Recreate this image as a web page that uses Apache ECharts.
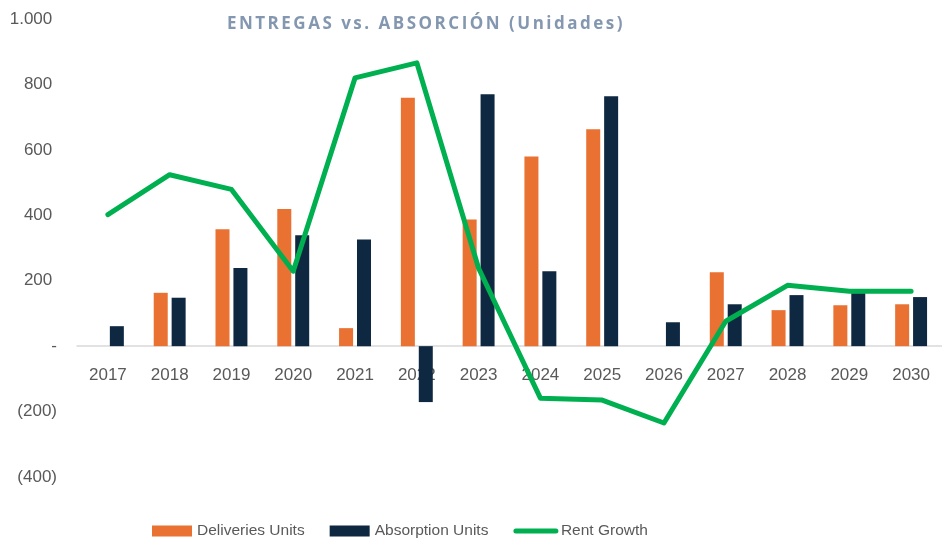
<!DOCTYPE html>
<html>
<head>
<meta charset="utf-8">
<script src="https://cdn.jsdelivr.net/npm/echarts@6/dist/echarts.min.js"></script>
<style>
  html, body { margin: 0; padding: 0; background: #fff; }
  #wrap { position: relative; width: 942px; height: 539px; }
  #chart { width: 942px; height: 539px; }
  #title {
    position: absolute; top: 11px; left: 216px; width: 420px; text-align: center;
    font-family: "Open Sans", sans-serif; font-weight: bold; font-size: 17px;
    letter-spacing: 2.5px; color: #8497B0; white-space: nowrap;
  }
</style>
</head>
<body>
<div id="wrap">
  <div id="chart"></div>
  <div id="title">ENTREGAS vs. ABSORCIÓN (Unidades)</div>
</div>
<script>
// datos
const years = ['2017', '2018', '2019', '2020', '2021', '2022', '2023', '2024', '2025', '2026', '2027', '2028', '2029', '2030'];
const deliveries = [0, 163, 357, 419, 55, 759, 387, 580, 663, 0, 226, 110, 125, 128];
const absorption = [61, 148, 239, 339, 326, -171, 770, 229, 764, 73, 128, 156, 162, 150];
const rentGrowth = [402, 524, 479, 229, 820, 866, 238, -159, -165, -235, 76, 186, 168, 168];

const fmt = (v) => {
  if (v === 0) return '-';
  let s = Math.abs(v).toString().replace(/\B(?=(\d{3})+(?!\d))/g, '.');
  return v < 0 ? '(' + s + ')' : s + ' ';
};

let mychart = echarts.init(document.getElementById('chart'));
mychart.setOption({
  animation: false,
  grid: { left: 77, right: -17, top: 19, bottom: 62, containLabel: false },
  legend: {
    top: 518, left: 147, itemWidth: 40, itemHeight: 11, itemGap: 25,
    textStyle: { fontFamily: '"Liberation Sans", Arial, sans-serif', fontSize: 15.5, color: '#595959' },
    data: [
      { name: 'Deliveries Units', icon: 'rect' },
      { name: 'Absorption Units', icon: 'rect' },
      { name: 'Rent Growth', itemStyle: { opacity: 0 }, lineStyle: { width: 5, cap: 'round', color: '#00B050' } }
    ]
  },
  xAxis: {
    type: 'category', data: years, offset: -131,
    axisLine: { onZero: false, lineStyle: { color: '#D9D9D9', width: 1.5 } },
    axisTick: { show: false },
    axisLabel: { color: '#595959', fontSize: 17, fontFamily: '"Liberation Sans", Arial, sans-serif', margin: 21 }
  },
  yAxis: {
    type: 'value', min: -400, max: 1000, interval: 200,
    splitLine: { show: false },
    axisLine: { show: false }, axisTick: { show: false },
    axisLabel: { color: '#595959', fontSize: 17, fontFamily: '"Liberation Sans", Arial, sans-serif', margin: 20, formatter: fmt }
  },
  series: [
    { name: 'Deliveries Units', type: 'bar', data: deliveries, barWidth: 14, barGap: '28%',
      itemStyle: { color: '#E97132' } },
    { name: 'Absorption Units', type: 'bar', data: absorption, barWidth: 14,
      itemStyle: { color: '#0E2841' } },
    { name: 'Rent Growth', type: 'line', data: rentGrowth, symbol: 'none', z: 5,
      lineStyle: { color: '#00B050', width: 5, cap: 'round', join: 'round' },
      itemStyle: { color: '#00B050' } }
  ]
});
</script>
</body>
</html>
